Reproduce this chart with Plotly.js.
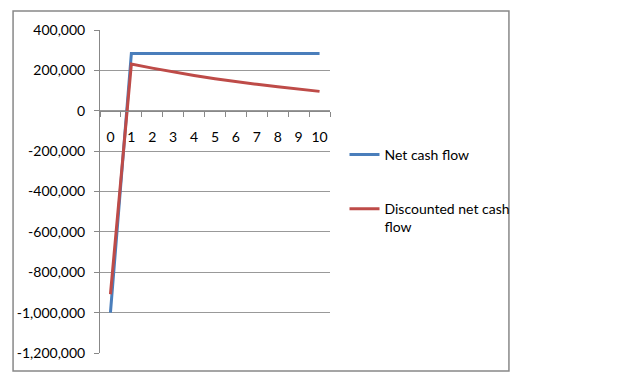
<!DOCTYPE html>
<html>
<head>
<meta charset="utf-8">
<script src="https://cdn.plot.ly/plotly-3.0.1.min.js"></script>
<style>
html,body{margin:0;padding:0;background:#fff;}
#chart{width:632px;height:384px;}
</style>
</head>
<body>
<div id="chart"></div>
<script>
// Data
var years = ['0','1','2','3','4','5','6','7','8','9','10'];
var netCashFlow = [-1000000, 283000, 283000, 283000, 283000, 283000, 283000, 283000, 283000, 283000, 283000];
var discountedNetCashFlow = [-909000, 231000, 211000, 192000, 175000, 159000, 144000, 131000, 119000, 108000, 96000];
var seriesNames = ['Net cash flow', 'Discounted net cash<br>flow'];
var yTicks = [400000, 200000, 0, -200000, -400000, -600000, -800000, -1000000, -1200000];
var yTickText = ['400,000', '200,000', '0', '-200,000', '-400,000', '-600,000', '-800,000', '-1,000,000', '-1,200,000'];

var fontFam = 'Lato, Noto Sans, Open Sans, sans-serif';
var traces = [
  {x: years, y: netCashFlow, name: seriesNames[0], type: 'scatter', mode: 'lines',
   line: {color: '#4A7EBB', width: 3}, legendgroup: 'a'},
  {x: years, y: discountedNetCashFlow, name: seriesNames[1], type: 'scatter', mode: 'lines',
   line: {color: '#BE4B48', width: 3}, legendgroup: 'b'}
];

var layout = {
  width: 632, height: 384,
  margin: {l: 100, r: 302, t: 30, b: 31},
  paper_bgcolor: '#fff', plot_bgcolor: '#fff',
  font: {family: fontFam, size: 13, color: '#000'},
  showlegend: true,
  legend: {x: 1.063, y: 0.663, xanchor: 'left', yanchor: 'top', traceorder: 'grouped',
           tracegroupgap: 33, valign: 'top', font: {family: fontFam, size: 14, color: '#000'},
           bgcolor: 'rgba(0,0,0,0)'},
  xaxis: {type: 'category', range: [-0.5, 10.5], anchor: 'free', position: 0.75,
          showline: true, linecolor: '#888', linewidth: 1, showgrid: false, zeroline: false,
          ticks: 'outside', ticklen: 5, tickcolor: '#888', tickson: 'boundaries', tickangle: 0,
          ticklabelstandoff: 13, tickfont: {family: fontFam, size: 14, color: '#000'},
          fixedrange: true},
  yaxis: {range: [-1200000, 400000], tickvals: yTicks, ticktext: yTickText,
          showline: true, linecolor: '#888', linewidth: 1, showgrid: true, gridcolor: '#999', gridwidth: 1,
          zeroline: false, ticks: 'outside', ticklen: 5, tickcolor: '#888',
          ticklabelstandoff: 6, tickfont: {family: fontFam, size: 14, color: '#000'},
          fixedrange: true},
  shapes: [
    {type: 'rect', xref: 'paper', yref: 'paper', x0: -0.378, x1: 1.778, y0: -0.056, y1: 1.059,
     line: {color: '#888', width: 1.5}, fillcolor: 'rgba(0,0,0,0)', layer: 'below'}
  ]
};

Plotly.newPlot('chart', traces, layout, {displayModeBar: false, staticPlot: true});
</script>
</body>
</html>
